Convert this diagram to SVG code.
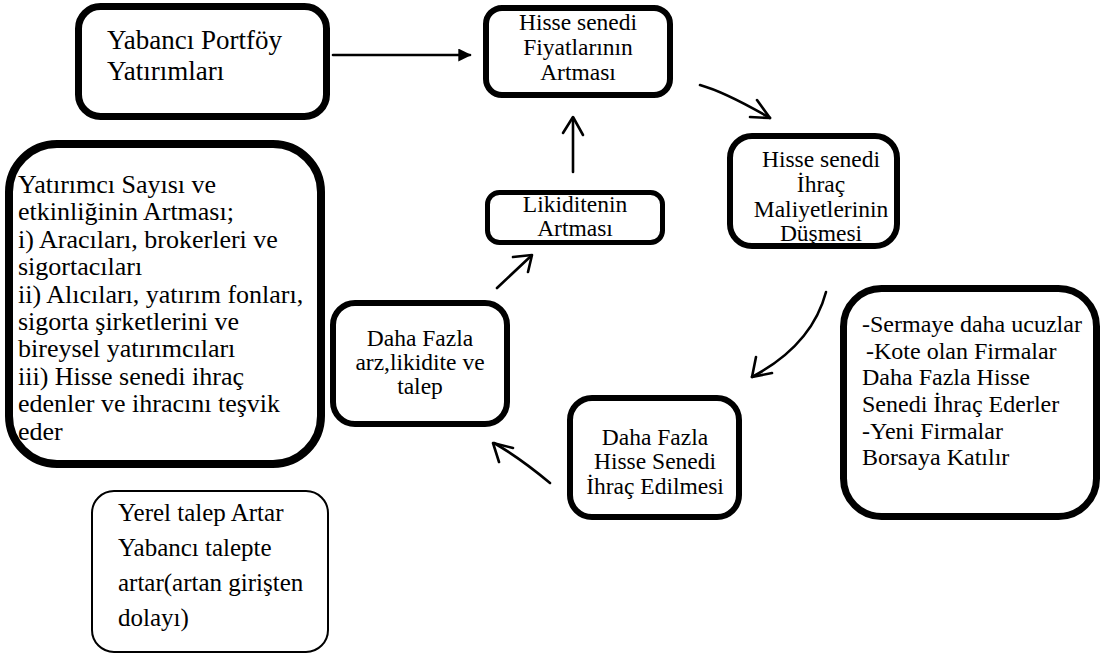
<svg xmlns="http://www.w3.org/2000/svg" width="1112" height="657" viewBox="0 0 1112 657">
<style>
.box{fill:#fff;stroke:#000}
.t{font-family:"Liberation Serif","Times New Roman",serif;fill:#000}
.c{text-anchor:middle;font-size:23.5px}
.l{font-size:26px}
.r{font-size:24px}
.y{font-size:25px}
.conn{fill:none;stroke:#000;stroke-width:2.6;stroke-linecap:round;stroke-linejoin:round}
</style>
<defs>
<marker id="tri" viewBox="0 0 10 10" refX="9" refY="5" markerWidth="5" markerHeight="5" orient="auto" markerUnits="strokeWidth">
<path d="M0,0 L10,5 L0,10 Z" fill="#000"/>
</marker>
</defs>
<rect width="1112" height="657" fill="#fff"/>

<g id="n1">
<rect class="box" x="78.5" y="6.5" width="248" height="110" rx="22" stroke-width="7"/>
<text class="t" x="107" y="49" font-size="27">Yabancı Portföy</text>
<text class="t" x="107" y="80" font-size="27">Yatırımları</text>
</g>

<g id="n2">
<rect class="box" x="486" y="8" width="184" height="87" rx="16" stroke-width="6"/>
<text class="t c" x="578" y="30">Hisse senedi</text>
<text class="t c" x="578" y="55">Fiyatlarının</text>
<text class="t c" x="578" y="80">Artması</text>
</g>

<g id="n3">
<rect class="box" x="730" y="136" width="167" height="110" rx="22" stroke-width="6"/>
<text class="t c" x="821" y="167">Hisse senedi</text>
<text class="t c" x="821" y="192">İhraç</text>
<text class="t c" x="821" y="217">Maliyetlerinin</text>
<text class="t c" x="821" y="241">Düşmesi</text>
</g>

<g id="n4">
<rect class="box" x="843.5" y="288.5" width="253" height="228" rx="38" stroke-width="7"/>
<text class="t r" x="862" y="332">-Sermaye daha ucuzlar</text>
<text class="t r" x="866" y="359">-Kote olan Firmalar</text>
<text class="t r" x="862" y="385">Daha Fazla Hisse</text>
<text class="t r" x="862" y="412">Senedi İhraç Ederler</text>
<text class="t r" x="862" y="439">-Yeni Firmalar</text>
<text class="t r" x="862" y="465">Borsaya Katılır</text>
</g>

<g id="n5">
<rect class="box" x="570" y="398" width="169" height="119" rx="22" stroke-width="6"/>
<text class="t c" x="655" y="445">Daha Fazla</text>
<text class="t c" x="655" y="469">Hisse Senedi</text>
<text class="t c" x="655" y="494">İhraç Edilmesi</text>
</g>

<g id="n6">
<rect class="box" x="333" y="303" width="174" height="121" rx="22" stroke-width="6"/>
<text class="t c" x="420" y="346" font-size="23px">Daha Fazla</text>
<text class="t c" x="420" y="370" font-size="23px">arz,likidite ve</text>
<text class="t c" x="420" y="394" font-size="23px">talep</text>
</g>

<g id="n7">
<rect class="box" x="487.5" y="192.5" width="175" height="50" rx="12" stroke-width="5"/>
<text class="t c" x="575" y="212">Likiditenin</text>
<text class="t c" x="575" y="236">Artması</text>
</g>

<g id="n8">
<rect class="box" x="9" y="144" width="312" height="320" rx="48" stroke-width="8"/>
<text class="t l" x="18" y="193">Yatırımcı Sayısı ve</text>
<text class="t l" x="18" y="220.4">etkinliğinin Artması;</text>
<text class="t l" x="18" y="247.8">i) Aracıları, brokerleri ve</text>
<text class="t l" x="18" y="275.2">sigortacıları</text>
<text class="t l" x="18" y="302.6">ii) Alıcıları, yatırım fonları,</text>
<text class="t l" x="18" y="330">sigorta şirketlerini ve</text>
<text class="t l" x="18" y="357.4">bireysel yatırımcıları</text>
<text class="t l" x="18" y="384.8">iii) Hisse senedi ihraç</text>
<text class="t l" x="18" y="412.2">edenler ve ihracını teşvik</text>
<text class="t l" x="18" y="439.6">eder</text>
</g>

<g id="n9">
<rect class="box" x="92" y="491" width="236" height="161" rx="22" stroke-width="2"/>
<text class="t y" x="118" y="521">Yerel talep Artar</text>
<text class="t y" x="118" y="556">Yabancı talepte</text>
<text class="t y" x="118" y="591">artar(artan girişten</text>
<text class="t y" x="118" y="626">dolayı)</text>
</g>

<g id="connectors">
<line class="conn" x1="333" y1="55" x2="470" y2="55" marker-end="url(#tri)"/>
<path class="conn" d="M700,85 Q725,92 770,118"/>
<path class="conn" d="M750,117 L770,118 L757,100"/>
<path class="conn" d="M573,172 L573,118"/>
<path class="conn" d="M563,133 L573,117 L583,135"/>
<path class="conn" d="M497,288 L531,256"/>
<path class="conn" d="M513,257 L532,255 L528,272"/>
<path class="conn" d="M826,292 Q812,345 752,377"/>
<path class="conn" d="M756,357 L752,377 L772,373"/>
<path class="conn" d="M550,483 Q520,458 494,443"/>
<path class="conn" d="M513,448 L493,443 L499,462"/>
</g>
</svg>
